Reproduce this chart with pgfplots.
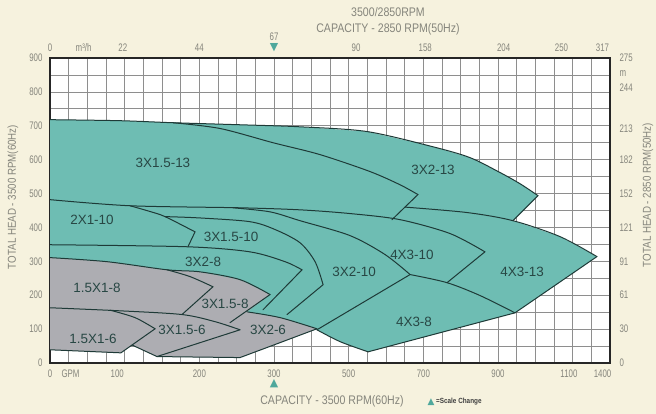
\documentclass[border=0pt]{standalone}
\usepackage{pgfplots}
\pgfplotsset{compat=1.18}
\usepackage{fontspec}
\setmainfont{Liberation Sans}
\newfontfamily\cond{Liberation Sans}[FakeStretch=0.72]
\newfontfamily\semi{Liberation Sans}[FakeStretch=0.85]
\newfontfamily\sym{DejaVu Sans}
\definecolor{bg}{HTML}{F6F2DE}
\definecolor{tealfill}{HTML}{6EBDB3}
\definecolor{grayfill}{HTML}{ADADB2}
\definecolor{edge}{HTML}{1E3A37}
\definecolor{txt}{HTML}{85857C}
\definecolor{lbl}{HTML}{284744}
\definecolor{gridc}{HTML}{8E8E8E}
\definecolor{mark}{HTML}{4FA89C}
\begin{document}
\begin{tikzpicture}
\fill[bg] (-50bp,-51bp) rectangle (606bp,363bp);
\path[use as bounding box] (-50bp,-51bp) rectangle (606bp,363bp);
\pgfplotsset{
  common/.style={
    at={(0,0)}, anchor=south west, scale only axis,
    width=560bp, height=305bp,
    xmin=0, xmax=30, ymin=0, ymax=900,
    major tick length=0pt, minor tick length=0pt,
    ticklabel style={font=\cond\fontsize{11}{11}\selectfont, text=txt},
  },
  area/.style={draw=none},
  curve/.style={draw=edge, line width=1bp, no marks, smooth, tension=0.5, line join=round, line cap=round},
  straight/.style={draw=edge, line width=1bp, no marks, line join=round, line cap=round},
}
\begin{axis}[common,
  axis background/.style={fill=white},
  axis line style={draw=black!85, line width=1.6bp},
  minor xtick={1,2,...,29}, minor ytick={50,100,...,850},
  xminorgrids=true, yminorgrids=true,
  minor grid style={draw=gridc, line width=0.7bp},
  xtick pos=left, ytick pos=left,
  xtick={0,1.1,3.6,8,12,16,20,24,27.8,29.6},
  xticklabels={0,GPM,100,200,{\shortstack{300\\[-1pt]{\sym\color{mark}▲}}},500,700,900,1100,1400},
  xticklabel style={yshift=-3bp},
  ytick={0,100,...,900},
  yticklabels={0,100,200,300,400,500,600,700,800,900},
  yticklabel style={xshift=-4bp},
]
% teal: union of the larger pump ranges
\addplot[area, fill=tealfill] coordinates {
 (0,718) (3.75,715) (6.59,709) (10.18,703) (13.39,697) (16.98,683) (20.52,638)
 (22.50,606) (24.11,562) (25.18,529) (26.14,494) (24.80,420) (27.32,373)
 (29.30,314) (24.91,148) (17.04,33) (15.54,63) (14.30,98) (0,98)} -- cycle;
% gray: union of the small pump ranges
\addplot[area, fill=grayfill] coordinates {
 (0,311) (3.05,299) (6.27,275) (8.04,269) (10.18,246) (11.79,202) (10.55,151)
 (12.32,134) (14.30,101) (12.32,60) (10.18,16) (8.04,17) (5.73,19) (4.40,53)
 (3.80,30) (0,39)} -- cycle;
% outer boundaries of the teal ranges
\addplot[curve] coordinates {(0,718) (3.75,715) (6.59,709) (10.18,703) (13.39,697) (16.98,683) (20.52,638) (22.50,606) (24.11,562) (25.18,529) (26.14,494)};
\addplot[straight] coordinates {(26.14,494) (24.80,420)};
\addplot[curve] coordinates {(19.02,460) (22.34,444) (24.80,420) (27.32,373) (29.30,314)};
\addplot[straight] coordinates {(29.30,314) (24.91,148) (17.04,33)};
\addplot[curve] coordinates {(17.04,33) (15.54,63) (14.30,98)};
% inner boundaries of the teal ranges
\addplot[curve] coordinates {(6.59,709) (9.11,692) (11.95,650) (14.46,615) (17.14,565) (18.75,526) (19.71,497)};
\addplot[straight] coordinates {(19.71,497) (18.32,423)};
\addplot[curve] coordinates {(0,482) (4.29,464) (10.18,458) (13.39,452) (16.07,441) (18.75,423) (21.43,382) (23.30,328)};
\addplot[straight] coordinates {(23.30,328) (21.27,237)};
\addplot[curve] coordinates {(19.29,261) (21.27,237) (23.04,199) (24.91,148)};
\addplot[curve] coordinates {(9.80,458) (11.79,446) (13.39,420) (16.07,376) (17.95,320) (19.29,261)};
\addplot[straight] coordinates {(19.29,261) (14.30,98)};
\addplot[curve] coordinates {(4.29,464) (5.36,447) (6.16,432) (7.77,387)};
\addplot[straight] coordinates {(7.77,387) (7.39,343)};
\addplot[curve] coordinates {(6.16,432) (8.04,428) (10.71,417) (12.05,394) (13.39,355) (14.20,299) (14.63,231)};
\addplot[straight] coordinates {(14.63,231) (12.70,143)};
\addplot[curve] coordinates {(0,349) (7.34,343) (10.71,328) (12.59,299) (13.50,275)};
\addplot[straight] coordinates {(13.50,275) (11.41,157)};
% boundaries of the gray ranges
\addplot[curve] coordinates {(0,311) (3.05,299) (6.27,275) (8.04,269) (10.18,246) (11.79,202)};
\addplot[straight] coordinates {(11.79,202) (9.64,119)};
\addplot[curve] coordinates {(6.27,275) (7.50,255) (8.73,225)};
\addplot[straight] coordinates {(8.73,225) (7.07,143)};
\addplot[curve] coordinates {(10.55,151) (12.32,134) (14.30,101)};
\addplot[straight] coordinates {(14.30,101) (12.32,60) (10.18,16) (5.73,19) (4.40,53)};
\addplot[curve] coordinates {(0,163) (3.75,154) (7.07,143) (8.84,122) (10.18,98)};
\addplot[straight] coordinates {(10.18,98) (5.73,19)};
\addplot[curve] coordinates {(3.21,156) (4.55,134) (5.63,101)};
\addplot[straight] coordinates {(5.63,101) (3.80,30) (0,39)};
% region names
\begin{scope}[every node/.style={font=\fontsize{13.5}{13.5}\selectfont, text=lbl}]
\node at (axis cs:6.05,591) {3X1.5-13};
\node at (axis cs:20.52,570) {3X2-13};
\node at (axis cs:2.25,423) {2X1-10};
\node at (axis cs:9.70,373) {3X1.5-10};
\node at (axis cs:8.20,299) {3X2-8};
\node at (axis cs:2.52,222) {1.5X1-8};
\node at (axis cs:9.38,175) {3X1.5-8};
\node at (axis cs:2.30,72) {1.5X1-6};
\node at (axis cs:7.07,98) {3X1.5-6};
\node at (axis cs:11.68,98) {3X2-6};
\node at (axis cs:16.29,269) {3X2-10};
\node at (axis cs:19.39,320) {4X3-10};
\node at (axis cs:25.29,269) {4X3-13};
\node at (axis cs:19.50,122) {4X3-8};
\end{scope}
\end{axis}
\begin{axis}[common,
  axis line style={draw=none},
  xtick pos=right, ytick pos=right,
  xticklabel pos=right, yticklabel pos=right,
  xtick={0,1.8,3.9,8,12,16.4,20.1,24.3,27.4,29.6},
  xticklabels={0,m³/h,22,44,{\shortstack{67\\[-1pt]{\sym\color{mark}▼}}},90,158,204,250,317},
  xticklabel style={yshift=3bp},
  ytick={0,100,200,300,400,500,600,690,812,855,900},
  yticklabels={0,30,61,91,121,152,182,213,244,m,275},
  yticklabel style={xshift=6bp},
]
\end{axis}
\begin{scope}[every node/.style={font=\semi\fontsize{12.5}{12.5}\selectfont, text=txt}]
\node at (338bp,351bp) {3500/2850RPM};
\node at (338bp,334bp) {CAPACITY - 2850 RPM(50Hz)};
\node at (282bp,-38.7bp) {CAPACITY - 3500 RPM(60Hz)};
\node[rotate=90, font=\semi\fontsize{11.5}{11.5}\selectfont] at (-37bp,166bp) {TOTAL HEAD - 3500 RPM(60Hz)};
\node[rotate=90, font=\semi\fontsize{11.5}{11.5}\selectfont] at (598bp,168bp) {TOTAL HEAD - 2850 RPM(50Hz)};
\end{scope}
\node[font=\sym\fontsize{9}{9}\selectfont, text=mark] at (381bp,-38.7bp) {▲};
\node[anchor=west, inner sep=0pt, font=\semi\bfseries\fontsize{7.5}{7.5}\selectfont, text=black!75] at (386bp,-38.7bp) {=Scale Change};
\end{tikzpicture}
\end{document}
